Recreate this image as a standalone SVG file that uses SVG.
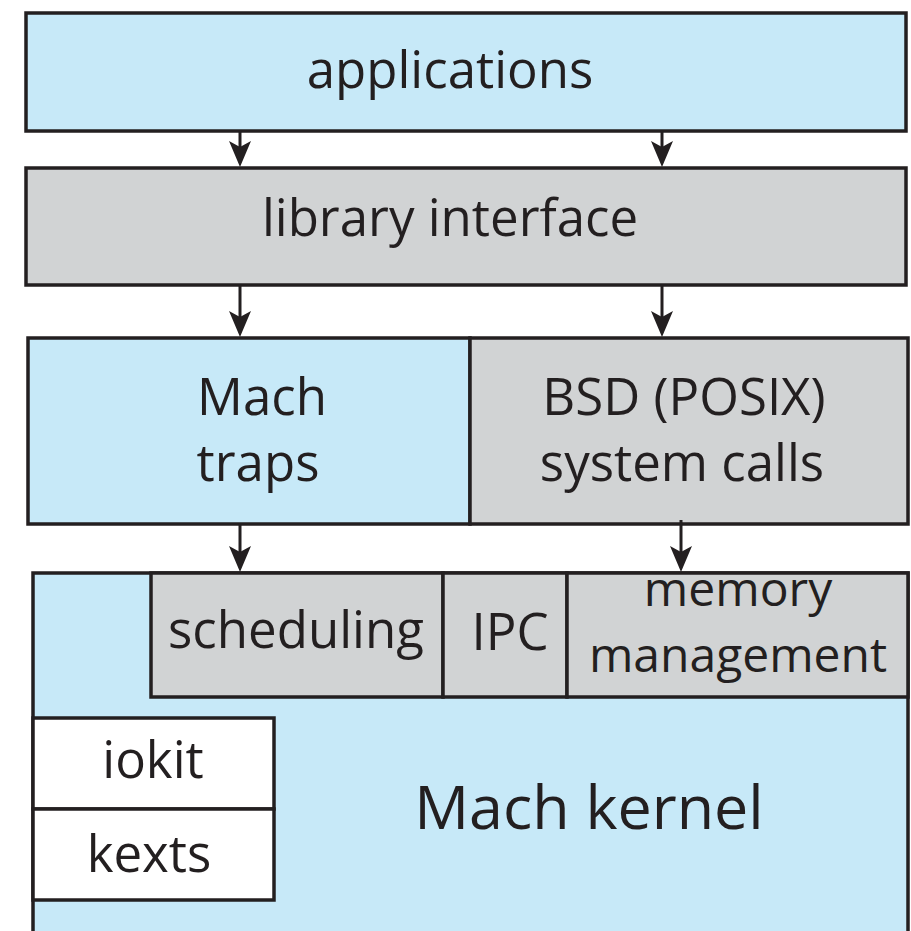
<svg xmlns="http://www.w3.org/2000/svg" width="911" height="931" viewBox="0 0 911 931">
<style>
.box{stroke:#231f20;stroke-width:3.5}
.blue{fill:#c7e9f8}
.gray{fill:#d1d3d4}
.white{fill:#ffffff}
.t{font-family:"Open Sans","Noto Sans",sans-serif;font-size:51px;fill:#231f20;text-anchor:middle}
.big{font-size:61px}
.mem{font-size:48px}
.c{stroke:#231f20;stroke-width:3;fill:none}
.h{fill:#231f20}
</style>
<defs>
<path id="ah" class="h" d="M-11,-26 L0,0 L11,-26 L0,-20 Z"/>
</defs>
<rect width="911" height="931" fill="#ffffff"/>
<g id="applications">
<rect class="box blue" x="26" y="13" width="880" height="118"/>
<text class="t" x="450" y="88">applications</text>
</g>
<g id="library">
<rect class="box gray" x="26" y="168" width="880" height="117"/>
<text class="t" x="450" y="236">library interface</text>
</g>
<g id="machtraps">
<rect class="box blue" x="28" y="338" width="442" height="186"/>
<text class="t" x="262" y="415">Mach</text>
<text class="t" x="258" y="481">traps</text>
</g>
<g id="bsd">
<rect class="box gray" x="470" y="338" width="438" height="186"/>
<text class="t" x="684" y="415">BSD (POSIX)</text>
<text class="t" x="682" y="481">system calls</text>
</g>
<g id="kernel">
<rect class="box blue" x="33" y="573" width="875" height="380"/>
<text class="t big" x="589" y="829">Mach kernel</text>
</g>
<g id="scheduling">
<rect class="box gray" x="151" y="573" width="292" height="124"/>
<text class="t" x="296" y="648">scheduling</text>
</g>
<g id="ipc">
<rect class="box gray" x="443" y="573" width="124" height="124"/>
<text class="t" x="510" y="650">IPC</text>
</g>
<g id="memory">
<rect class="box gray" x="567" y="573" width="341" height="124"/>
<text class="t mem" x="738" y="606">memory</text>
<text class="t mem" x="738" y="672">management</text>
</g>
<g id="iokit">
<rect class="box white" x="33" y="718" width="241" height="91"/>
<text class="t" x="153" y="778">iokit</text>
</g>
<g id="kexts">
<rect class="box white" x="33" y="809" width="241" height="91"/>
<text class="t" x="149" y="872">kexts</text>
</g>
<g id="connectors">
<line class="c" x1="240" y1="131" x2="240" y2="150"/>
<use href="#ah" x="240" y="167"/>
<line class="c" x1="662" y1="131" x2="662" y2="150"/>
<use href="#ah" x="662" y="167"/>
<line class="c" x1="240" y1="285" x2="240" y2="320"/>
<use href="#ah" x="240" y="337"/>
<line class="c" x1="662" y1="285" x2="662" y2="320"/>
<use href="#ah" x="662" y="337"/>
<line class="c" x1="240" y1="524" x2="240" y2="555"/>
<use href="#ah" x="240" y="572"/>
<line class="c" x1="681" y1="520" x2="681" y2="555"/>
<use href="#ah" x="681" y="572"/>
</g>
</svg>
